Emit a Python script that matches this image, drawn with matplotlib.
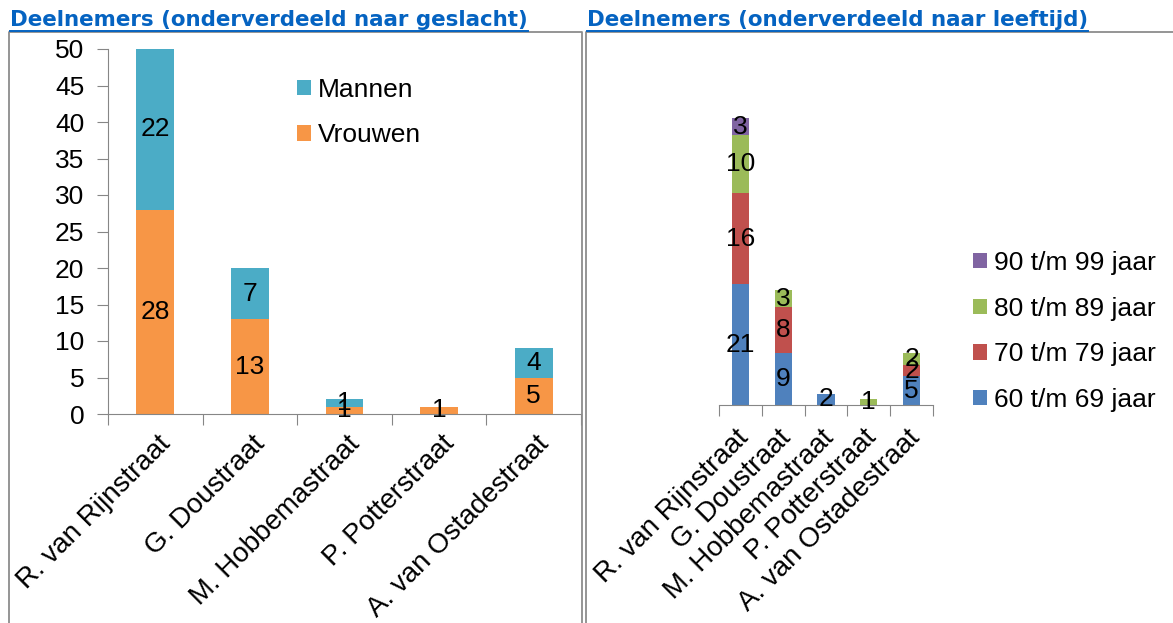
import matplotlib
matplotlib.use("Agg")
import matplotlib.pyplot as plt
from matplotlib.lines import Line2D

streets = ["R. van Rijnstraat", "G. Doustraat", "M. Hobbemastraat", "P. Potterstraat", "A. van Ostadestraat"]
vrouwen = [28, 13, 1, 1, 5]
mannen = [22, 7, 1, 0, 4]
age_labels = ["60 t/m 69 jaar", "70 t/m 79 jaar", "80 t/m 89 jaar", "90 t/m 99 jaar"]
age_60 = [21, 9, 2, 0, 5]
age_70 = [16, 8, 0, 0, 2]
age_80 = [10, 3, 0, 1, 2]
age_90 = [3, 0, 0, 0, 0]
title_left = "Deelnemers (onderverdeeld naar geslacht)"
title_right = "Deelnemers (onderverdeeld naar leeftijd)"

W, H = 1173, 623
plt.rcParams['font.family'] = ['Liberation Sans', 'DejaVu Sans']
FS = 19
XFS = 20
GRAY = '#868686'
fig = plt.figure(figsize=(W / 100, H / 100), dpi=100)

def fx(px):
    return px / W

def fy(py):
    return 1 - py / H

# panel borders
for x0, x1 in [(9, 582), (586, 1200)]:
    fig.add_artist(Line2D([fx(x0), fx(x0), fx(x1), fx(x1)], [fy(640), fy(32), fy(32), fy(640)],
                          color='#8c8c8c', lw=1.3, transform=fig.transFigure))

# titles
title_texts = []
for x, t in [(10, title_left), (587, title_right)]:
    tt = fig.text(fx(x), fy(26), t, fontsize=15.4, fontweight='bold', color='#0563C1',
                  family='DejaVu Sans', ha='left', va='baseline')
    title_texts.append(tt)

def style_axes(ax, n):
    for s in ['top', 'right']:
        ax.spines[s].set_visible(False)
    ax.spines['bottom'].set_color(GRAY)
    ax.spines['left'].set_color(GRAY)
    ax.set_xlim(-0.5, n - 0.5)
    ax.set_xticks([i - 0.5 for i in range(n + 1)])
    ax.set_xticklabels([])
    ax.tick_params(axis='x', which='major', length=8, color=GRAY, direction='out')
    ax.set_xticks(range(n), minor=True)
    ax.tick_params(axis='x', which='minor', length=0)

def add_xlabels(ax, dx, dy):
    for i, s in enumerate(streets):
        ax.annotate(s, xy=(i, 0), xycoords=('data', 'axes fraction'), xytext=(dx, dy),
                    textcoords='offset pixels', rotation=45, rotation_mode='anchor',
                    ha='right', va='center', fontsize=XFS)

n = len(streets)
x = list(range(n))

# Left chart
ax1 = fig.add_axes([fx(108), fy(414), fx(581) - fx(108), fy(49) - fy(414)])
style_axes(ax1, n)
ax1.set_ylim(0, 50)
ax1.set_yticks(range(0, 51, 5))
ax1.tick_params(axis='y', length=8, color=GRAY, labelsize=FS, pad=9)
bv = ax1.bar(x, vrouwen, width=0.4, color='#F79646', label='Vrouwen')
bm = ax1.bar(x, mannen, width=0.4, bottom=vrouwen, color='#4BACC6', label='Mannen')
ax1.bar_label(bv, labels=[str(v) if v else '' for v in vrouwen], label_type='center', fontsize=FS)
ax1.bar_label(bm, labels=[str(v) if v else '' for v in mannen], label_type='center', fontsize=FS)
add_xlabels(ax1, 11, -26)
h, l = ax1.get_legend_handles_labels()
ax1.legend(h[::-1], l[::-1], loc='upper left', bbox_to_anchor=(fx(297), fy(78)),
           bbox_transform=fig.transFigure, frameon=False, fontsize=FS, borderpad=0,
           handlelength=0.53, handleheight=0.53, handletextpad=0.25, labelspacing=0.8,
           borderaxespad=0)

# Right chart
ax2 = fig.add_axes([fx(719), fy(405), fx(933) - fx(719), fy(118) - fy(405)])
style_axes(ax2, n)
ax2.spines['left'].set_visible(False)
ax2.set_yticks([])
ax2.set_ylim(0, 50)
cols = ['#4F81BD', '#C0504D', '#9BBB59', '#8064A2']
bottom = [0] * n
for vals, lab, c in zip([age_60, age_70, age_80, age_90], age_labels, cols):
    b = ax2.bar(x, vals, width=0.4, bottom=bottom, color=c, label=lab)
    ax2.bar_label(b, labels=[str(v) if v else '' for v in vals], label_type='center', fontsize=FS)
    bottom = [bb + v for bb, v in zip(bottom, vals)]
add_xlabels(ax2, 4, -29)
h, l = ax2.get_legend_handles_labels()
ax2.legend(h[::-1], l[::-1], loc='upper left', bbox_to_anchor=(fx(973), fy(251)),
           bbox_transform=fig.transFigure, frameon=False, fontsize=FS, borderpad=0,
           handlelength=0.53, handleheight=0.53, handletextpad=0.25, labelspacing=0.82,
           borderaxespad=0)

# underline titles
fig.canvas.draw()
r = fig.canvas.get_renderer()
for tt in title_texts:
    bb = tt.get_window_extent(r)
    fig.add_artist(Line2D([bb.x0 / W, bb.x1 / W], [fy(30.5), fy(30.5)], color='#0563C1',
                          lw=1.4, transform=fig.transFigure))

fig.savefig('out.png', dpi=100)
